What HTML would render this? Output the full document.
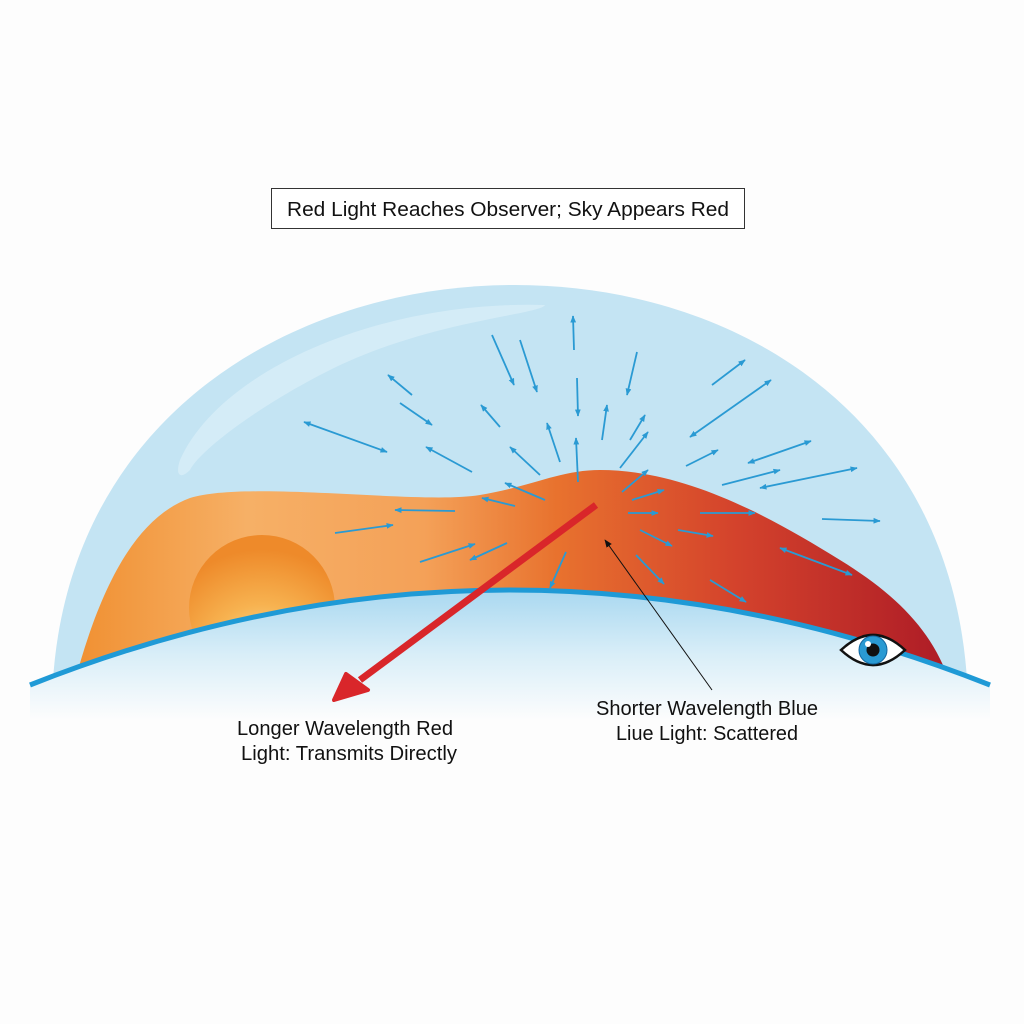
<!DOCTYPE html>
<html><head><meta charset="utf-8"><style>
html,body{margin:0;padding:0;background:#fdfdfd;}
svg{display:block}
text{font-family:"Liberation Sans",sans-serif;fill:#111}
</style></head><body>
<svg width="1024" height="1024" viewBox="0 0 1024 1024" xmlns="http://www.w3.org/2000/svg">
<defs>
<linearGradient id="band" x1="0" y1="0" x2="1" y2="0">
<stop offset="0" stop-color="#f08f30"/>
<stop offset="0.2" stop-color="#f6b066"/>
<stop offset="0.4" stop-color="#f4a158"/>
<stop offset="0.55" stop-color="#e8722e"/>
<stop offset="0.75" stop-color="#d4432c"/>
<stop offset="1" stop-color="#ac1a26"/>
</linearGradient>
<radialGradient id="sun" cx="0.5" cy="0.85" r="0.75">
<stop offset="0" stop-color="#fbe6a0"/>
<stop offset="0.5" stop-color="#f7b250"/>
<stop offset="1" stop-color="#ee8a2a"/>
</radialGradient>
<linearGradient id="ground" gradientUnits="userSpaceOnUse" x1="0" y1="590" x2="0" y2="720">
<stop offset="0" stop-color="#a9d8f0"/>
<stop offset="0.5" stop-color="#d9eef8"/>
<stop offset="1" stop-color="#fdfdfd"/>
</linearGradient>
<marker id="ah" viewBox="0 0 10 10" refX="9" refY="5" markerWidth="4" markerHeight="4" orient="auto-start-reverse"><path d="M0,1 L10,5 L0,9z" fill="#2a9ad3"/></marker>
<marker id="bk" viewBox="0 0 10 10" refX="9" refY="5" markerWidth="8" markerHeight="8" orient="auto"><path d="M0,1 L10,5 L0,9z" fill="#111"/></marker>
<clipPath id="abv"><path d="M0,0 H1024 V685 L990,685 Q510,495 30,685 L0,685z"/></clipPath>
</defs>
<path d="M30,685 Q510,495 990,685 L990,760 L30,760Z" fill="url(#ground)"/>
<g clip-path="url(#abv)">
<path d="M52,700 C60,420 290,285 515,285 C740,285 960,420 968,700 Z" fill="#c4e4f3"/>
<path d="M180,460 C220,370 380,300 545,305 C540,315 430,320 330,370 C260,405 200,450 190,470 C180,480 175,475 180,460Z" fill="#d8eef8" opacity="0.8"/>
<path d="M70,700 C95,600 130,520 190,498 C250,480 420,505 480,495 C530,487 560,470 600,470 C680,470 760,510 840,560 C905,600 940,640 955,700 Z" fill="url(#band)"/>
<circle cx="262" cy="608" r="73" fill="url(#sun)"/>
</g>
<path d="M30,685 Q510,495 990,685" fill="none" stroke="#1f9ad6" stroke-width="5"/>
<g stroke="#2a9ad3" stroke-width="1.8" fill="none" marker-end="url(#ah)">
<line x1="574" y1="350" x2="573" y2="316"/>
<line x1="492" y1="335" x2="514" y2="385"/>
<line x1="520" y1="340" x2="537" y2="392"/>
<line x1="577" y1="378" x2="578" y2="416"/>
<line x1="637" y1="352" x2="627" y2="395"/>
<line x1="412" y1="395" x2="388" y2="375"/>
<line x1="400" y1="403" x2="432" y2="425"/>
<line x1="387" y1="452" x2="304" y2="422" marker-start="url(#ah)"/>
<line x1="500" y1="427" x2="481" y2="405"/>
<line x1="472" y1="472" x2="426" y2="447"/>
<line x1="560" y1="462" x2="547" y2="423"/>
<line x1="540" y1="475" x2="510" y2="447"/>
<line x1="578" y1="482" x2="576" y2="438"/>
<line x1="602" y1="440" x2="607" y2="405"/>
<line x1="630" y1="440" x2="645" y2="415"/>
<line x1="620" y1="468" x2="648" y2="432"/>
<line x1="712" y1="385" x2="745" y2="360"/>
<line x1="690" y1="437" x2="771" y2="380" marker-start="url(#ah)"/>
<line x1="686" y1="466" x2="718" y2="450"/>
<line x1="748" y1="463" x2="811" y2="441" marker-start="url(#ah)"/>
<line x1="722" y1="485" x2="780" y2="470"/>
<line x1="760" y1="488" x2="857" y2="468" marker-start="url(#ah)"/>
<line x1="545" y1="500" x2="505" y2="483"/>
<line x1="622" y1="492" x2="648" y2="470"/>
<line x1="515" y1="506" x2="482" y2="498"/>
<line x1="455" y1="511" x2="395" y2="510"/>
<line x1="335" y1="533" x2="393" y2="525"/>
<line x1="420" y1="562" x2="475" y2="544"/>
<line x1="507" y1="543" x2="470" y2="560"/>
<line x1="628" y1="513" x2="658" y2="513"/>
<line x1="700" y1="513" x2="755" y2="513"/>
<line x1="822" y1="519" x2="880" y2="521"/>
<line x1="632" y1="500" x2="664" y2="490"/>
<line x1="678" y1="530" x2="713" y2="536"/>
<line x1="640" y1="530" x2="672" y2="546"/>
<line x1="780" y1="548" x2="852" y2="575" marker-start="url(#ah)"/>
<line x1="636" y1="555" x2="664" y2="584"/>
<line x1="566" y1="552" x2="550" y2="588"/>
<line x1="710" y1="580" x2="746" y2="602"/>
</g>
<line x1="596" y1="505" x2="360" y2="680" stroke="#d9262a" stroke-width="7"/>
<path d="M334,700 L346,674 L368,690Z" fill="#d9262a" stroke="#d9262a" stroke-width="4" stroke-linejoin="round"/>
<line x1="712" y1="690" x2="605" y2="540" stroke="#111" stroke-width="1" marker-end="url(#bk)"/>
<g transform="translate(873,650)">
<path d="M-32,0 Q0,-30 32,0 Q0,30 -32,0Z" fill="#fff" stroke="#111" stroke-width="2.5"/>
<circle r="14" fill="#2a9ad3" stroke="#1467a0" stroke-width="1"/>
<circle r="6.5" fill="#111"/>
<circle cx="-5" cy="-6" r="3" fill="#fff"/>
</g>
<rect x="271.5" y="188.5" width="473" height="40" fill="#fff" stroke="#333" stroke-width="1"/>
<text x="508" y="216" font-size="20.5" text-anchor="middle" textLength="442" lengthAdjust="spacingAndGlyphs">Red Light Reaches Observer; Sky Appears Red</text>
<text x="345" y="735" font-size="20" text-anchor="middle" textLength="216" lengthAdjust="spacingAndGlyphs">Longer Wavelength Red</text>
<text x="349" y="760" font-size="20" text-anchor="middle" textLength="216" lengthAdjust="spacingAndGlyphs">Light: Transmits Directly</text>
<text x="707" y="715" font-size="20" text-anchor="middle" textLength="222" lengthAdjust="spacingAndGlyphs">Shorter Wavelength Blue</text>
<text x="707" y="740" font-size="20" text-anchor="middle" textLength="182" lengthAdjust="spacingAndGlyphs">Liue Light: Scattered</text>
</svg>
</body></html>
